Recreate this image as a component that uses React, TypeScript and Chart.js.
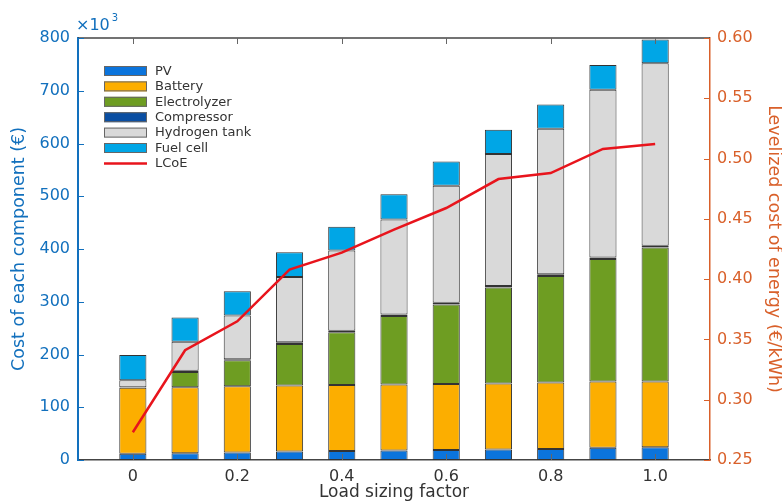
import React, { useEffect, useRef } from "react";
import { Chart, registerables } from "chart.js";

Chart.register(...registerables);

const loadFactors = [0, 0.1, 0.2, 0.3, 0.4, 0.5, 0.6, 0.7, 0.8, 0.9, 1.0];
const pv = [12, 13, 14, 16, 17, 18, 19, 20, 21, 23, 24];
const battery = [125, 125, 126, 125, 125, 125, 125, 125, 126, 126, 125];
const electrolyzer = [0, 29, 49, 79, 100, 130, 151, 182, 202, 232, 254];
const compressor = [1, 2, 2, 3, 3, 3, 3, 3, 3, 3, 3];
const hydrogenTank = [13, 55, 83, 124, 152, 180, 222, 250, 276, 318, 346];
const fuelCell = [48, 46, 46, 47, 45, 48, 46, 46, 46, 47, 45];
const lcoe = [0.273, 0.341, 0.365, 0.408, 0.422, 0.441, 0.459, 0.483, 0.488, 0.508, 0.512];
const xTickValues = [0, 0.2, 0.4, 0.6, 0.8, 1.0];

const FONT = "'DejaVu Sans', sans-serif";
const BLUE = "#1270bd";
const ORANGE = "#d9602a";
const GRAY = "#444444";

const seriesDefs = [
  { label: "PV", data: pv, color: "#0b74dc" },
  { label: "Battery", data: battery, color: "#fcae00" },
  { label: "Electrolyzer", data: electrolyzer, color: "#6e9d22" },
  { label: "Compressor", data: compressor, color: "#0a4ea2" },
  { label: "Hydrogen tank", data: hydrogenTank, color: "#d9d9d9" },
  { label: "Fuel cell", data: fuelCell, color: "#00a6e6" },
];

const decorPlugin = {
  id: "decor",
  afterDraw(chart: any) {
    const { ctx, chartArea } = chart;
    const { left, right, top, bottom } = chartArea;
    const xs = chart.scales.x;
    const ys = chart.scales.y;
    const y1 = chart.scales.y1;
    const tl = 6;
    ctx.save();
    // top border
    ctx.strokeStyle = GRAY;
    ctx.lineWidth = 1.5;
    ctx.beginPath();
    ctx.moveTo(left, top);
    ctx.lineTo(right, top);
    ctx.stroke();
    // x ticks inward (bottom & top)
    ctx.lineWidth = 1;
    ctx.strokeStyle = "#666";
    ctx.beginPath();
    xs.ticks.forEach((t: any) => {
      const px = Math.round(xs.getPixelForValue(t.value)) + 0.5;
      ctx.moveTo(px, bottom);
      ctx.lineTo(px, bottom - tl);
      ctx.moveTo(px, top);
      ctx.lineTo(px, top + tl);
    });
    ctx.stroke();
    // left ticks
    ctx.strokeStyle = BLUE;
    ctx.beginPath();
    ys.ticks.forEach((t: any) => {
      const py = Math.round(ys.getPixelForValue(t.value)) + 0.5;
      ctx.moveTo(left, py);
      ctx.lineTo(left + tl, py);
    });
    ctx.stroke();
    // right ticks
    ctx.strokeStyle = ORANGE;
    ctx.beginPath();
    y1.ticks.forEach((t: any) => {
      const py = Math.round(y1.getPixelForValue(t.value)) + 0.5;
      ctx.moveTo(right, py);
      ctx.lineTo(right - tl, py);
    });
    ctx.stroke();
    // exponent label
    ctx.fillStyle = BLUE;
    ctx.textBaseline = "alphabetic";
    ctx.textAlign = "left";
    ctx.font = `16px ${FONT}`;
    ctx.fillText("×10", left - 2, top - 8);
    const w = ctx.measureText("×10").width;
    ctx.font = `10px ${FONT}`;
    ctx.fillText("3", left - 2 + w + 2, top - 17);
    // legend
    const lx = left + 26;
    let ly = top + 33;
    const rowH = 15.4;
    ctx.font = `13px ${FONT}`;
    ctx.textBaseline = "middle";
    chart.data.datasets.forEach((ds: any) => {
      if (ds.type === "line") {
        ctx.strokeStyle = ds.borderColor;
        ctx.lineWidth = 2.5;
        ctx.beginPath();
        ctx.moveTo(lx, ly);
        ctx.lineTo(lx + 43, ly);
        ctx.stroke();
      } else {
        ctx.fillStyle = ds.backgroundColor;
        ctx.fillRect(lx, ly - 5, 43, 10);
        ctx.strokeStyle = "#666";
        ctx.lineWidth = 1;
        ctx.strokeRect(lx + 0.5, ly - 5 + 0.5, 42, 9);
      }
      ctx.fillStyle = "#333";
      ctx.fillText(ds.label, lx + 51, ly + 0.5);
      ly += rowH;
    });
    ctx.restore();
  },
};

export default function App() {
  const ref = useRef<HTMLCanvasElement | null>(null);
  useEffect(() => {
    document.body.style.margin = "0";
    if (!ref.current) return;
    const datasets: any[] = seriesDefs.map((s) => ({
      type: "bar",
      label: s.label,
      data: loadFactors.map((x, i) => ({ x, y: s.data[i] })),
      backgroundColor: s.color,
      borderColor: "#333",
      borderWidth: 1,
      borderSkipped: false,
      yAxisID: "y",
      barPercentage: 0.52,
      categoryPercentage: 1,
    }));
    datasets.push({
      type: "line",
      label: "LCoE",
      data: loadFactors.map((x, i) => ({ x, y: lcoe[i] })),
      borderColor: "#e8141c",
      backgroundColor: "#e8141c",
      borderWidth: 2.5,
      pointRadius: 0,
      tension: 0,
      yAxisID: "y1",
      order: -1,
    });
    const chart = new Chart(ref.current, {
      type: "bar",
      data: { datasets },
      plugins: [decorPlugin],
      options: {
        animation: false,
        responsive: false,
        layout: { padding: { top: 38, left: 0, right: 0, bottom: 0 } },
        plugins: { legend: { display: false }, tooltip: { enabled: false } },
        scales: {
          x: {
            type: "linear",
            min: -0.105,
            max: 1.105,
            offset: false,
            stacked: true,
            grid: { display: false, drawTicks: false },
            border: { display: true, color: GRAY, width: 1.5 },
            afterBuildTicks: (scale: any) => {
              scale.ticks = xTickValues.map((value) => ({ value }));
            },
            afterFit: (scale: any) => {
              scale.height = 42;
            },
            ticks: {
              color: "#333",
              font: { family: FONT, size: 16 },
              padding: 7,
              maxRotation: 0,
              autoSkip: false,
              callback: (v: any) => (Number(v) === 0 ? "0" : Number(v).toFixed(1)),
            },
            title: {
              display: true,
              text: "Load sizing factor",
              color: "#333",
              font: { family: FONT, size: 17, lineHeight: 1 },
              padding: { top: 0, bottom: 0.5 },
            },
          },
          y: {
            type: "linear",
            position: "left",
            min: 0,
            max: 800,
            stacked: true,
            grid: { display: false, drawTicks: false },
            border: { display: true, color: BLUE, width: 2 },
            afterFit: (scale: any) => {
              scale.width = 78;
            },
            ticks: {
              stepSize: 100,
              color: BLUE,
              font: { family: FONT, size: 16 },
              padding: 8,
            },
            title: {
              display: true,
              text: "Cost of each component (€)",
              color: BLUE,
              font: { family: FONT, size: 17.5, lineHeight: 1 },
              padding: { top: 11, bottom: 0 },
            },
          },
          y1: {
            type: "linear",
            position: "right",
            min: 0.25,
            max: 0.6,
            stacked: false,
            grid: { display: false, drawTicks: false },
            border: { display: true, color: ORANGE, width: 1.5 },
            afterFit: (scale: any) => {
              scale.width = 72;
            },
            ticks: {
              stepSize: 0.05,
              color: ORANGE,
              font: { family: FONT, size: 16 },
              padding: 7,
              callback: (v: any) => Number(v).toFixed(2),
            },
            title: {
              display: true,
              text: "Levelized cost of energy (€/kWh)",
              color: ORANGE,
              font: { family: FONT, size: 17.5, lineHeight: 1 },
              padding: { top: 0, bottom: 0 },
            },
          },
        },
      } as any,
    });
    return () => chart.destroy();
  }, []);
  return (
    <div style={{ width: 782, height: 502, overflow: "hidden" }}>
      <canvas ref={ref} width={782} height={502} style={{ display: "block" }} />
    </div>
  );
}
